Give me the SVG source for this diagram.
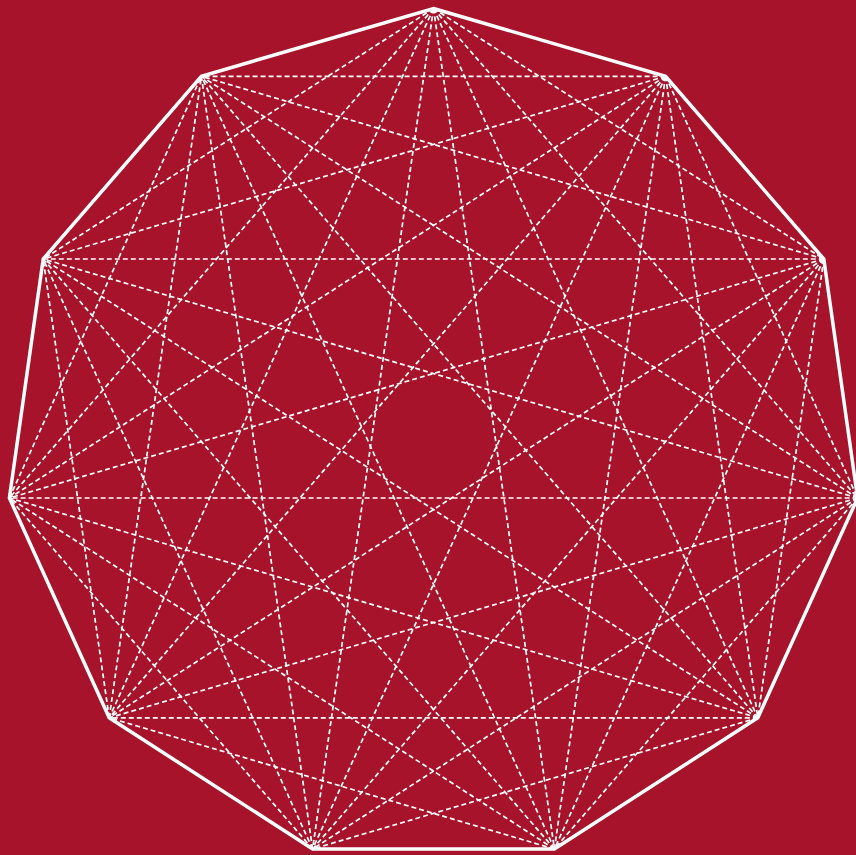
<svg xmlns="http://www.w3.org/2000/svg" width="856" height="855" viewBox="0 0 856 855">
<style>
.d{stroke:#fff;stroke-width:1.7;stroke-dasharray:5 3;fill:none}
.e{stroke:#fff;stroke-width:3.5;fill:none;stroke-linejoin:miter}
</style>
<rect width="856" height="855" fill="#A6132A"/>
<g id="connectors">
<line class="d" x1="433.5" y1="8.5" x2="823.8" y2="259"/>
<line class="d" x1="433.5" y1="8.5" x2="857.6" y2="498"/>
<line class="d" x1="433.5" y1="8.5" x2="757.8" y2="717.8"/>
<line class="d" x1="433.5" y1="8.5" x2="554.4" y2="849"/>
<line class="d" x1="433.5" y1="8.5" x2="312.6" y2="849"/>
<line class="d" x1="433.5" y1="8.5" x2="109.2" y2="717.8"/>
<line class="d" x1="433.5" y1="8.5" x2="9.4" y2="498"/>
<line class="d" x1="433.5" y1="8.5" x2="43.2" y2="259"/>
<line class="d" x1="665.6" y1="76.3" x2="857.6" y2="498"/>
<line class="d" x1="665.6" y1="76.3" x2="757.8" y2="717.8"/>
<line class="d" x1="665.6" y1="76.3" x2="554.4" y2="849"/>
<line class="d" x1="665.6" y1="76.3" x2="312.6" y2="849"/>
<line class="d" x1="665.6" y1="76.3" x2="109.2" y2="717.8"/>
<line class="d" x1="665.6" y1="76.3" x2="9.4" y2="498"/>
<line class="d" x1="665.6" y1="76.3" x2="43.2" y2="259"/>
<line class="d" x1="665.6" y1="76.3" x2="201.4" y2="76.3"/>
<line class="d" x1="823.8" y1="259" x2="757.8" y2="717.8"/>
<line class="d" x1="823.8" y1="259" x2="554.4" y2="849"/>
<line class="d" x1="823.8" y1="259" x2="312.6" y2="849"/>
<line class="d" x1="823.8" y1="259" x2="109.2" y2="717.8"/>
<line class="d" x1="823.8" y1="259" x2="9.4" y2="498"/>
<line class="d" x1="823.8" y1="259" x2="43.2" y2="259"/>
<line class="d" x1="823.8" y1="259" x2="201.4" y2="76.3"/>
<line class="d" x1="857.6" y1="498" x2="554.4" y2="849"/>
<line class="d" x1="857.6" y1="498" x2="312.6" y2="849"/>
<line class="d" x1="857.6" y1="498" x2="109.2" y2="717.8"/>
<line class="d" x1="857.6" y1="498" x2="9.4" y2="498"/>
<line class="d" x1="857.6" y1="498" x2="43.2" y2="259"/>
<line class="d" x1="857.6" y1="498" x2="201.4" y2="76.3"/>
<line class="d" x1="757.8" y1="717.8" x2="312.6" y2="849"/>
<line class="d" x1="757.8" y1="717.8" x2="109.2" y2="717.8"/>
<line class="d" x1="757.8" y1="717.8" x2="9.4" y2="498"/>
<line class="d" x1="757.8" y1="717.8" x2="43.2" y2="259"/>
<line class="d" x1="757.8" y1="717.8" x2="201.4" y2="76.3"/>
<line class="d" x1="554.4" y1="849" x2="109.2" y2="717.8"/>
<line class="d" x1="554.4" y1="849" x2="9.4" y2="498"/>
<line class="d" x1="554.4" y1="849" x2="43.2" y2="259"/>
<line class="d" x1="554.4" y1="849" x2="201.4" y2="76.3"/>
<line class="d" x1="312.6" y1="849" x2="9.4" y2="498"/>
<line class="d" x1="312.6" y1="849" x2="43.2" y2="259"/>
<line class="d" x1="312.6" y1="849" x2="201.4" y2="76.3"/>
<line class="d" x1="109.2" y1="717.8" x2="43.2" y2="259"/>
<line class="d" x1="109.2" y1="717.8" x2="201.4" y2="76.3"/>
<line class="d" x1="9.4" y1="498" x2="201.4" y2="76.3"/>
</g>
<g id="outline">
<polygon class="e" points="433.5,8.5 665.6,76.3 823.8,259 857.6,498 757.8,717.8 554.4,849 312.6,849 109.2,717.8 9.4,498 43.2,259 201.4,76.3"/>
</g>
</svg>
